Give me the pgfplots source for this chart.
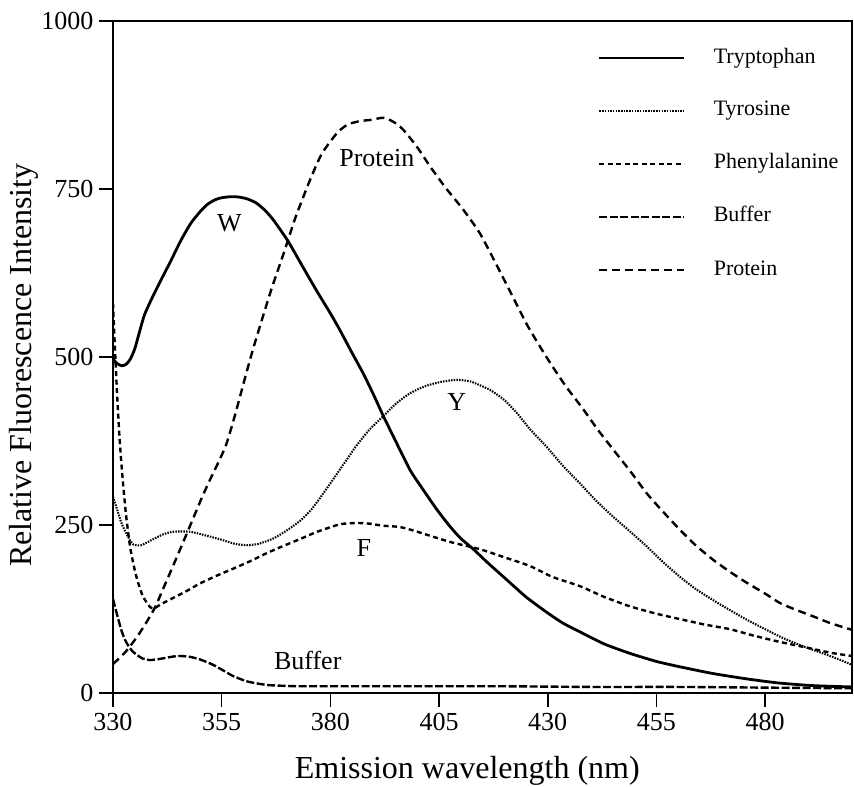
\documentclass[border=0pt]{standalone}
\usepackage{fontspec}
\setmainfont{Liberation Serif}
\usepackage{pgfplots}
\pgfplotsset{compat=1.18}
\begin{document}
\begin{tikzpicture}
\begin{axis}[
  scale only axis, width=739bp, height=672bp,
  xmin=330, xmax=500, ymin=0, ymax=1000,
  xtick={330,355,380,405,430,455,480},
  ytick={0,250,500,750,1000},
  tick align=outside, tick pos=left,
  major tick length=14bp,
  tick style={line width=1.6bp, black},
  axis line style={line width=2.2bp},
  /pgf/number format/assume math mode=true,
  /pgf/number format/set thousands separator={},
  ticklabel style={font=\fontsize{26bp}{28bp}\selectfont},
  xticklabel style={yshift=-3bp},
  yticklabel style={xshift=-2bp},
  xlabel={Emission wavelength (nm)},
  ylabel={Relative Fluorescence Intensity},
  label style={font=\fontsize{32bp}{34bp}\selectfont},
  xlabel style={at={(axis description cs:0.4794,-0.1265)}, anchor=base},
  ylabel style={at={(axis description cs:-0.1211,0.488)}, anchor=center},
  legend style={draw=none, fill=none, inner sep=0pt, outer sep=0pt,
    at={(axis description cs:0.6563,0.9613)}, anchor=north west,
    row sep=31bp, column sep=28bp,
    font=\fontsize{22bp}{24bp}\selectfont,
    nodes={inner sep=0pt, text height=16bp, text depth=6bp}},
  legend cell align=left,
  legend image code/.code={\draw[#1] (0bp,0bp) -- (85bp,0bp);},
  every axis plot/.append style={smooth, tension=0.4},
]
% Tryptophan
\addplot[black, line width=2.8bp] coordinates {
(330,497) (331,490) (332,487) (333,489) (334,497) (335,512) (336,535) (337.2,562)
(339,588) (341,614) (343.3,643) (345.5,672) (347.8,698) (350,716) (351.7,727)
(353.5,734) (355,737) (357,738.5) (359,738) (361,735) (363,729) (365,718) (367,703)
(370.3,672) (373.5,636) (376.9,598) (380,565) (382.2,540)
(385,506) (387.6,475) (390,443) (392.2,412) (396,362) (398.5,330) (401.4,302)
(404.5,273) (407.5,248) (410,230) (412.9,214) (416,195) (419.8,173) (425,143)
(429.8,120) (433.5,104) (437.4,91) (443,73) (448.9,59) (455,47) (460.4,39) (468,29)
(475.8,21) (483,15) (491,11) (500,9)};
\addlegendentry{Tryptophan}
% Tyrosine
\addplot[black, line width=2.1bp, dash pattern=on 1.5bp off 1.2bp] coordinates {
(330,292) (331,272) (332,252) (333.5,232) (334.7,221) (336.5,220) (339,228) (341.5,236)
(343.9,240) (347.7,240) (351,235) (355,228) (358,222) (360.8,220) (363.5,222) (366.9,230)
(370,242) (373,256) (375.5,272) (377.6,290) (380,312) (383,340) (386,368) (389,392)
(392.2,412) (395,430) (398.3,446) (402,457) (405.5,463) (409,466) (412,464) (414.4,458)
(417,450) (420,436) (423,416) (426,392) (429.8,366) (433.5,338) (437.4,312) (441,287)
(445.1,262) (449,240) (452.8,218) (456.5,195) (460.4,173) (464,155) (468.1,138)
(472,123) (475.8,109) (480,95) (483.4,84) (487,74) (491.1,64) (495,55) (500,42)};
\addlegendentry{Tyrosine}
% Phenylalanine
\addplot[black, line width=2.4bp, dash pattern=on 5bp off 3.5bp] coordinates {
(330,580) (330.4,520) (330.9,450) (331.5,380) (332.2,320) (333,265) (334,215)
(335.3,175) (336.8,145) (338.5,128) (339.5,126) (341,132) (344,142) (347,152)
(350,163) (354,175) (358,186) (361.5,196) (365,207) (368.5,217) (373,229) (377,240)
(382.2,251) (386,253) (389,252) (392,249) (396,247) (399.5,241) (402.9,234) (408,224)
(414.4,214) (420,202) (425.9,189) (431,173) (437.4,159) (443,143) (448.9,129)
(455,118) (460.4,110) (466,102) (471.9,95) (477,86) (483.4,76) (490,67) (495,60) (500,55)};
\addlegendentry{Phenylalanine}
% Buffer
\addplot[black, line width=2.4bp, dash pattern=on 8bp off 2.5bp] coordinates {
(330,140) (331,115) (332,92) (333,76) (334.5,62) (336.6,52) (338.5,49) (341,51)
(344.7,55) (347.5,54) (350,50) (353,42) (355.5,33) (357.7,25) (361,17) (365.4,12)
(370,10.5) (373,10) (380,10) (400,10) (420,10) (440,9) (460,9) (480,8) (500,7)};
\addlegendentry{Buffer}
% Protein
\addplot[black, line width=2.4bp, dash pattern=on 8bp off 5bp] coordinates {
(330,43) (333,62) (336,88) (339.4,124) (342,162) (345,207) (348,253) (350.2,287)
(352,313) (354,340) (356,369) (358,412) (360,460) (362,507) (364,550) (366.5,602)
(369.3,655) (372,708) (375.3,763) (378,802) (381.5,833) (384,846) (386.8,851)
(389.5,853) (392.2,856) (394.5,850) (396.8,838) (400,812) (403,783) (406.5,752)
(410.6,719) (414.4,684) (418,640) (422.1,588) (425.5,545) (429.8,499) (434,458)
(438.2,422) (441.5,392) (445.1,362) (449,330) (452.8,297) (456.5,270) (460.4,243)
(464,220) (468.1,198) (472,180) (475.8,164) (480,148) (483.4,134) (487,124)
(491.1,114) (495,104) (500,94)};
\addlegendentry{Protein}
\node[font=\fontsize{26bp}{28bp}\selectfont] at (axis cs:356.8,699) {W};
\node[font=\fontsize{26bp}{28bp}\selectfont] at (axis cs:390.7,796) {Protein};
\node[font=\fontsize{26bp}{28bp}\selectfont] at (axis cs:409.1,433) {Y};
\node[font=\fontsize{26bp}{28bp}\selectfont] at (axis cs:387.7,216) {F};
\node[font=\fontsize{26bp}{28bp}\selectfont] at (axis cs:374.8,49) {Buffer};
\end{axis}
\pgfresetboundingbox
\path[use as bounding box] (-113bp,-94bp) rectangle (741bp,693bp);
\end{tikzpicture}
\end{document}
